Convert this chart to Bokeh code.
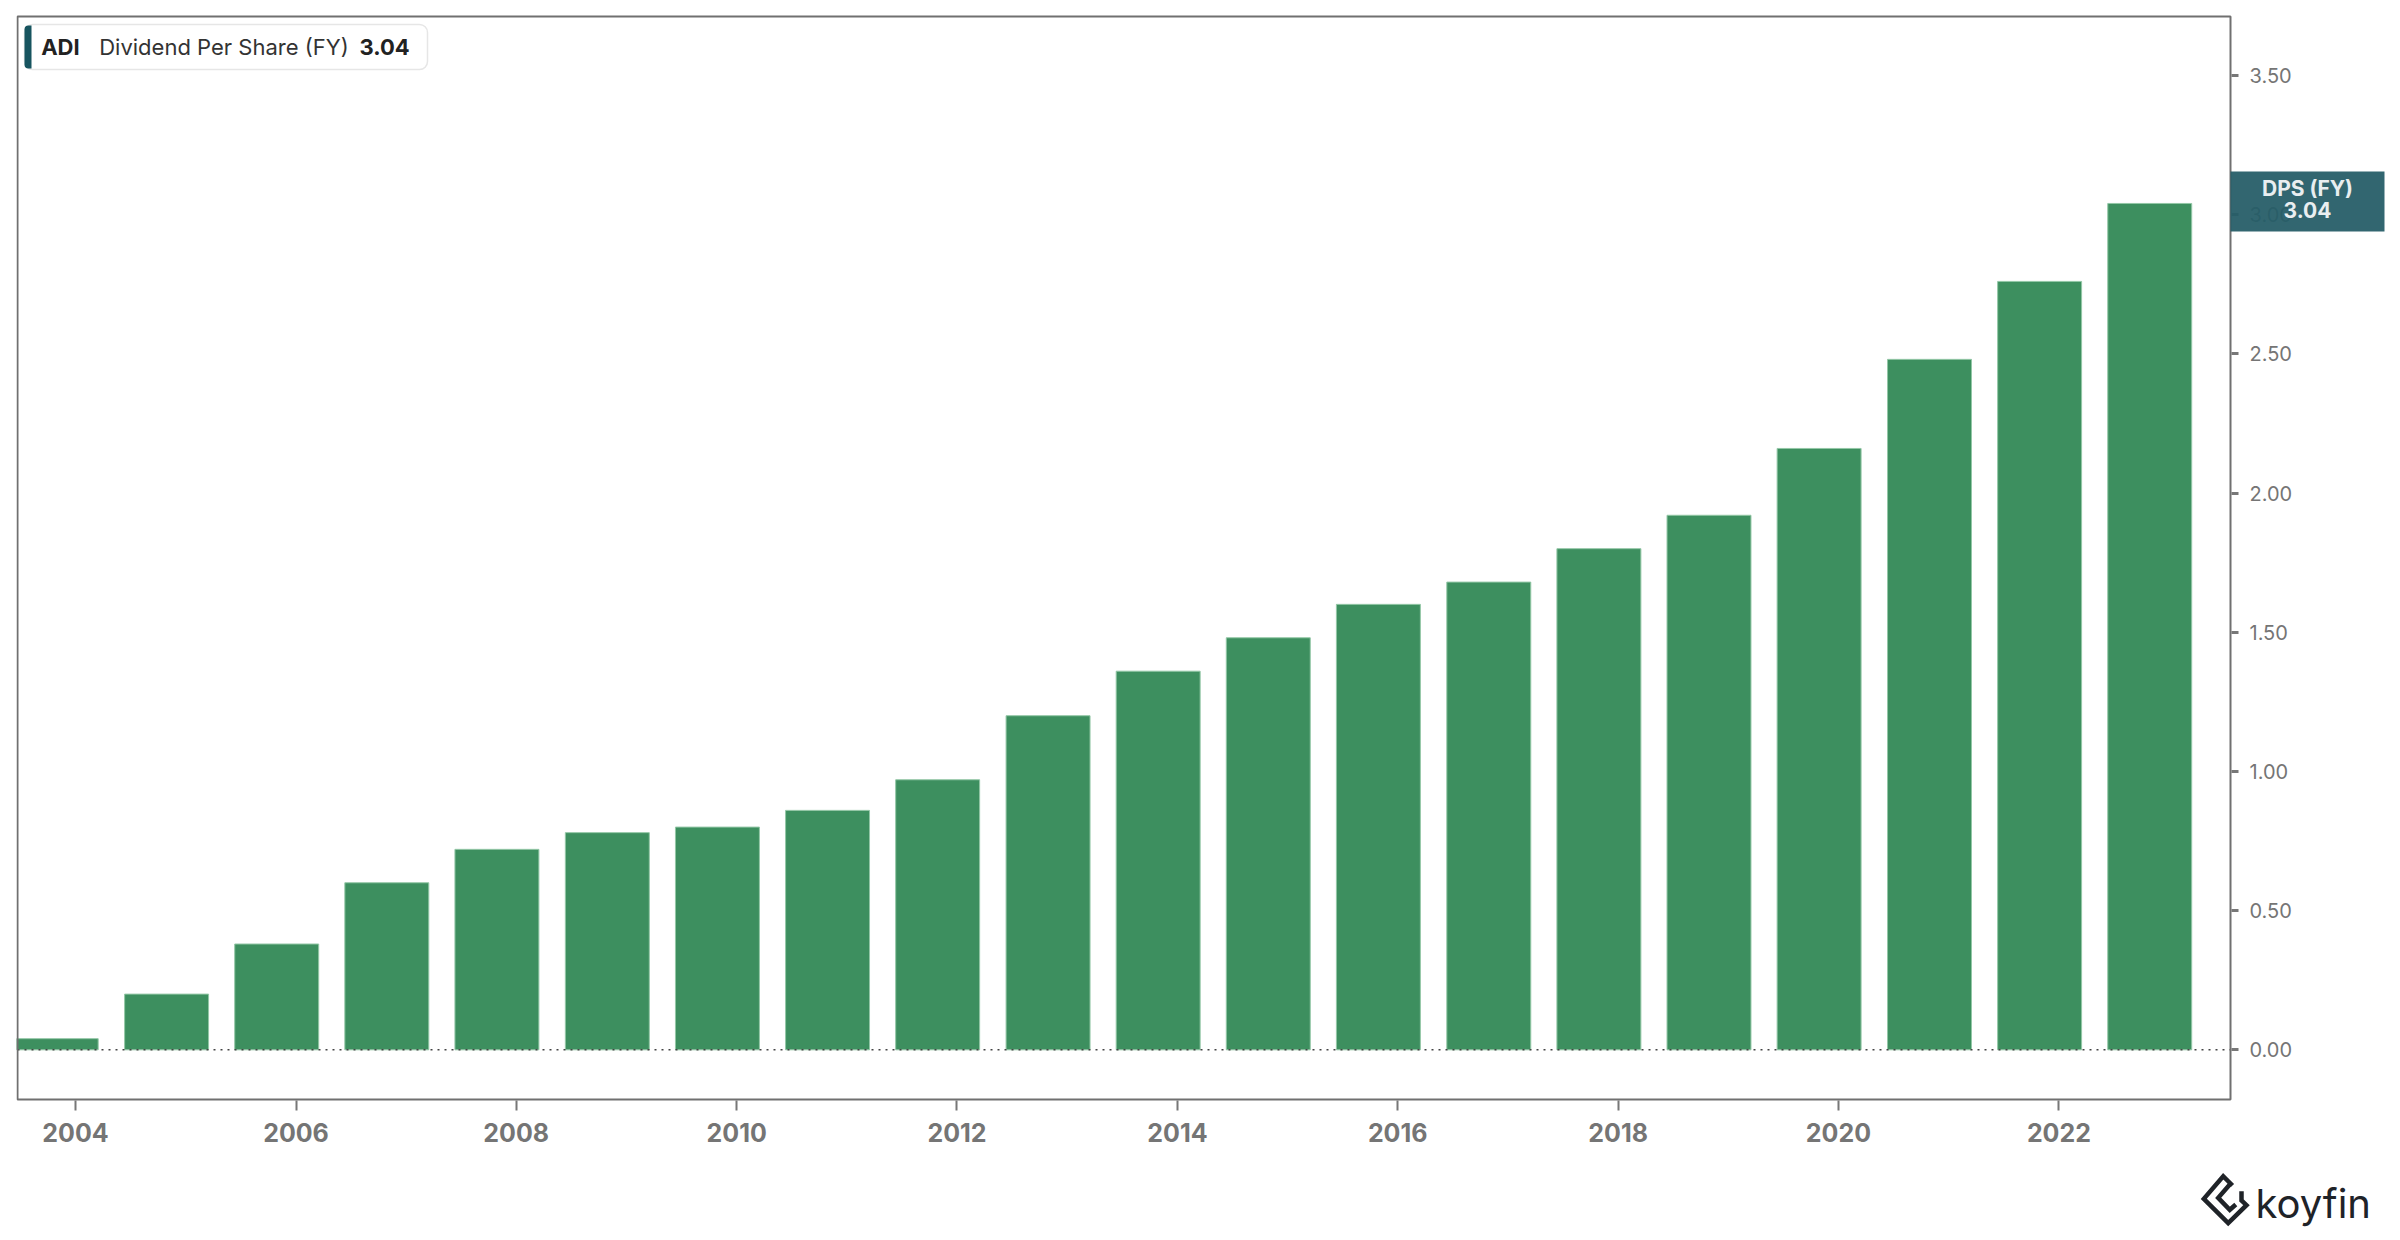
from datetime import datetime, timedelta
from bokeh.plotting import figure
from bokeh.models import (Range1d, FixedTicker, DatetimeTickFormatter, Label, LinearAxis,
                          DatetimeAxis, BoxAnnotation, NumeralTickFormatter,
                          ColumnDataSource)
from bokeh.embed import file_html
from bokeh.resources import INLINE

# ---------------- data ----------------
fiscal_years = [2003, 2004, 2005, 2006, 2007, 2008, 2009, 2010, 2011, 2012,
                2013, 2014, 2015, 2016, 2017, 2018, 2019, 2020, 2021, 2022]
dps = [0.04, 0.20, 0.38, 0.60, 0.72, 0.78, 0.80, 0.86, 0.97, 1.20,
       1.36, 1.48, 1.60, 1.68, 1.80, 1.92, 2.16, 2.48, 2.76, 3.04]
tick_years = [2004, 2006, 2008, 2010, 2012, 2014, 2016, 2018, 2020, 2022]
y_ticks = [0.0, 0.5, 1.0, 1.5, 2.0, 2.5, 3.0, 3.5]
ticker_name = "ADI"
series_name = "Dividend Per Share (FY)"
short_name = "DPS (FY)"
last_value_text = "3.04"
brand = "koyfin"

# ---------------- geometry helpers ----------------
EPOCH = datetime(1970, 1, 1)


def ms(dt):
    return (dt - EPOCH).total_seconds() * 1000.0


def year_ms(f):
    return ms(datetime(2004, 1, 1) + timedelta(days=(f - 2004) * 365.2425))


W, H = 2396, 1236
# chart box (drawn outline) in canvas px
BL, BR, BT, BB = 17, 2230, 16, 1099
CLIP_L = 16                             # frame left edge (clips the first bar)
PX_PER_YEAR = 110.18
X0_PX = 75                              # canvas px of 2004-01-01
Y0_PX = 1049.3                          # canvas px of y=0
PX_PER_UNIT = 278.4
TEXT_SHIFT = 9                          # label baseline correction (px)


def X(cx):
    return year_ms(2004 + (cx - X0_PX) / PX_PER_YEAR)


def Y(cy):
    return (Y0_PX - cy) / PX_PER_UNIT


def YT(cy):
    return Y(cy - TEXT_SHIFT)


bar_x = [ms(datetime(y, 10, 29)) for y in fiscal_years]
bar_w = 0.762 * 365.25 * 86400000.0
src = ColumnDataSource(dict(x=bar_x, top=dps))

p = figure(width=W, height=H, output_backend="svg", toolbar_location=None,
           x_axis_location=None, y_axis_location=None,
           x_range=Range1d(X(CLIP_L), X(W)), y_range=Range1d(Y(H), Y(0)),
           min_border_left=CLIP_L, min_border_right=0,
           min_border_top=0, min_border_bottom=0)
p.background_fill_color = "white"
p.border_fill_color = "white"
p.outline_line_color = None
p.xgrid.visible = False
p.ygrid.visible = False

p.vbar(x="x", top="top", width=bar_w, bottom=0, source=src,
       fill_color="#3d8f5f", line_color="#93c7a6", line_width=1)

# dotted zero line across the chart box
p.segment(x0=[X(BL)], x1=[X(BR)], y0=[0], y1=[0], line_color="#444444",
          line_width=1.5, line_dash="2 5")

# chart box outline
p.add_layout(BoxAnnotation(left=X(BL), right=X(BR), top=Y(BT), bottom=Y(BB),
                           fill_alpha=0, line_color="#707070", line_alpha=1.0,
                           line_width=2))

# x axis (fixed at the bottom edge of the box)
xa = DatetimeAxis(fixed_location=Y(BB + 1))
xa.ticker = FixedTicker(ticks=[ms(datetime(y, 1, 1)) for y in tick_years])
xa.formatter = DatetimeTickFormatter(years="%Y", months="%Y", days="%Y", hours="%Y",
                                     minutes="%Y", seconds="%Y", milliseconds="%Y",
                                     microseconds="%Y", minsec="%Y", hourmin="%Y")
xa.axis_line_color = None
xa.major_tick_line_color = "#777777"
xa.major_tick_line_width = 2
xa.major_tick_out = 10
xa.major_tick_in = 0
xa.minor_tick_line_color = None
xa.major_label_text_font = "Inter"
xa.major_label_text_font_size = "25px"
xa.major_label_text_font_style = "bold"
xa.major_label_text_color = "#757575"
xa.major_label_standoff = 12
p.add_layout(xa, "below")

# y axis (fixed at the right edge of the box)
ya = LinearAxis(fixed_location=X(BR + 1))
ya.ticker = FixedTicker(ticks=y_ticks)
ya.formatter = NumeralTickFormatter(format="0.00")
ya.axis_line_color = None
ya.major_tick_line_color = "#777777"
ya.major_tick_line_width = 3
ya.major_tick_out = 7
ya.major_tick_in = 0
ya.minor_tick_line_color = None
ya.major_label_text_font = "Inter"
ya.major_label_text_font_size = "20px"
ya.major_label_text_color = "#757575"
ya.major_label_standoff = 11
p.add_layout(ya, "right")

# legend box
p.add_layout(BoxAnnotation(left=X(24), right=X(427), top=Y(24), bottom=Y(69),
                           fill_color="white", fill_alpha=1.0, line_color="#e6e6e6",
                           line_alpha=1.0, line_width=1.5, border_radius=8))
p.add_layout(BoxAnnotation(left=X(24), right=X(31), top=Y(25), bottom=Y(68),
                           fill_color="#17545f", fill_alpha=1.0, line_color=None,
                           border_radius=(4, 0, 0, 4)))
p.add_layout(Label(x=X(40.7), y=YT(55), text=ticker_name, text_font="Inter",
                   text_font_size="22px", text_font_style="bold", text_color="#222222",
                   text_baseline="alphabetic"))
p.add_layout(Label(x=X(98.7), y=YT(55), text=series_name, text_font="Inter",
                   text_font_size="22px", text_color="#333333",
                   text_baseline="alphabetic"))
p.add_layout(Label(x=X(359), y=YT(55), text=last_value_text, text_font="Inter",
                   text_font_size="22px", text_font_style="bold", text_color="#222222",
                   text_baseline="alphabetic"))

# last value box on right axis
p.add_layout(BoxAnnotation(left=X(2230), right=X(2384), top=Y(171), bottom=Y(231),
                           fill_color="#255c67", fill_alpha=0.94, line_color=None))
p.add_layout(Label(x=X(2307), y=YT(197), text=short_name, text_font="Inter",
                   text_font_size="21px", text_font_style="bold", text_color="#e9eef0",
                   text_align="center", text_baseline="alphabetic"))
p.add_layout(Label(x=X(2307), y=YT(218), text=last_value_text, text_font="Inter",
                   text_font_size="21px", text_font_style="bold", text_color="#e9eef0",
                   text_align="center", text_baseline="alphabetic"))

# koyfin logo
p.add_layout(Label(x=X(2255), y=YT(1212), text=brand, text_font="Inter",
                   text_font_size="40px", text_color="#1f2328",
                   text_baseline="alphabetic"))
logo_a = [(2232, 1185), (2222.7, 1175.7), (2203.3, 1198.3), (2227.7, 1222.7),
          (2246, 1204.7), (2241, 1200), (2241, 1190.7)]
logo_b = [(2229.3, 1184), (2217.7, 1197.3), (2229.3, 1209.3), (2235.3, 1204)]
p.multi_line(xs=[[X(a) for a, b in s] for s in (logo_a, logo_b)],
             ys=[[Y(b) for a, b in s] for s in (logo_a, logo_b)],
             line_color="#1f2328", line_width=4.5, line_join="miter")

open("out.html", "w").write(file_html(p, INLINE))
